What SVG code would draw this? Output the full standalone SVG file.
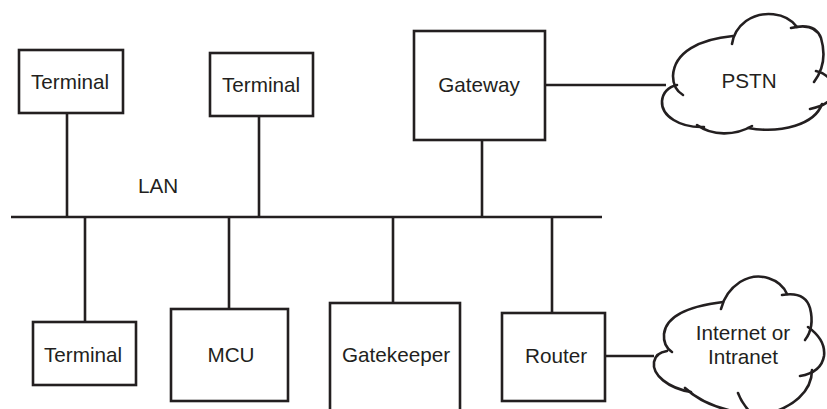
<svg xmlns="http://www.w3.org/2000/svg" width="827" height="409" viewBox="0 0 827 409">
<style>
.box{fill:#fff;stroke:#231f20;stroke-width:2.6}
.ln{fill:none;stroke:#231f20;stroke-width:2.6}
.cl{fill:none;stroke:#231f20;stroke-width:2.6;stroke-linecap:round}
text{font-family:"Liberation Sans",Arial,Helvetica,sans-serif;font-size:20.7px;fill:#231f20;text-anchor:middle}
</style>
<rect width="827" height="409" fill="#fff"/>
<g id="connectors">
<line class="ln" x1="11" y1="217" x2="602" y2="217" stroke-width="3"/>
<line class="ln" x1="67" y1="113" x2="67" y2="217"/>
<line class="ln" x1="259" y1="116" x2="259" y2="217"/>
<line class="ln" x1="482" y1="140" x2="482" y2="217"/>
<line class="ln" x1="545" y1="85" x2="666" y2="85"/>
<line class="ln" x1="85" y1="217" x2="85" y2="322"/>
<line class="ln" x1="229" y1="217" x2="229" y2="309"/>
<line class="ln" x1="393" y1="217" x2="393" y2="303"/>
<line class="ln" x1="552" y1="217" x2="552" y2="313"/>
<line class="ln" x1="605" y1="356" x2="654" y2="356"/>
</g>
<text id="lan" x="158" y="193">LAN</text>
<g id="terminal1"><rect class="box" x="19" y="50" width="104" height="63"/><text x="70" y="89">Terminal</text></g>
<g id="terminal2"><rect class="box" x="210" y="53" width="103" height="63"/><text x="261" y="92">Terminal</text></g>
<g id="gateway"><rect class="box" x="414" y="31" width="131" height="109"/><text x="479" y="92">Gateway</text></g>
<g id="pstn">
<path class="cl" d="M683,95 Q673,89 673,76 C674,52 700,39 733,36"/>
<path class="cl" d="M732,44 Q734,30 746,21 C762,10 786,12 797,27"/>
<path class="cl" d="M791,28 Q815,22 821,38 C826,55 823,70 814,82"/>
<path class="cl" d="M816,71 Q832,75 834,90 Q834,104 810,109"/>
<path class="cl" d="M822,104 C815,124 782,134 748,128"/>
<path class="cl" d="M752,126 C735,136 712,136 697,125"/>
<path class="cl" d="M704,127 C680,128 661,116 662,101 C663,92 668,87 677,85"/>
<text x="749" y="88">PSTN</text>
</g>
<g id="terminal3"><rect class="box" x="33" y="322" width="103" height="63"/><text x="83" y="362">Terminal</text></g>
<g id="mcu"><rect class="box" x="171" y="309" width="117" height="92"/><text x="231" y="362">MCU</text></g>
<g id="gatekeeper"><rect class="box" x="330" y="303" width="130" height="115"/><text x="396" y="362">Gatekeeper</text></g>
<g id="router"><rect class="box" x="502" y="313" width="103" height="88"/><text x="556" y="363">Router</text></g>
<g id="internet">
<path class="cl" d="M672,352 Q663,346 664,334 C666,316 690,306 723,302"/>
<path class="cl" d="M721,309 Q725,292 740,282 C760,270 781,280 787,294"/>
<path class="cl" d="M782,295 Q805,291 810,308 C813,320 812,331 805,340"/>
<path class="cl" d="M808,327 Q826,340 824,356 C822,368 812,374 800,376"/>
<path class="cl" d="M812,370 C812,392 792,408 766,414"/>
<path class="cl" d="M738,393 Q742,404 752,414"/>
<path class="cl" d="M744,413 C722,410 700,402 685,388"/>
<path class="cl" d="M691,392 C668,388 652,375 654,362 C655,356 660,352 667,351"/>
<text x="743" y="340">Internet or</text>
<text x="743" y="364">Intranet</text>
</g>
</svg>
